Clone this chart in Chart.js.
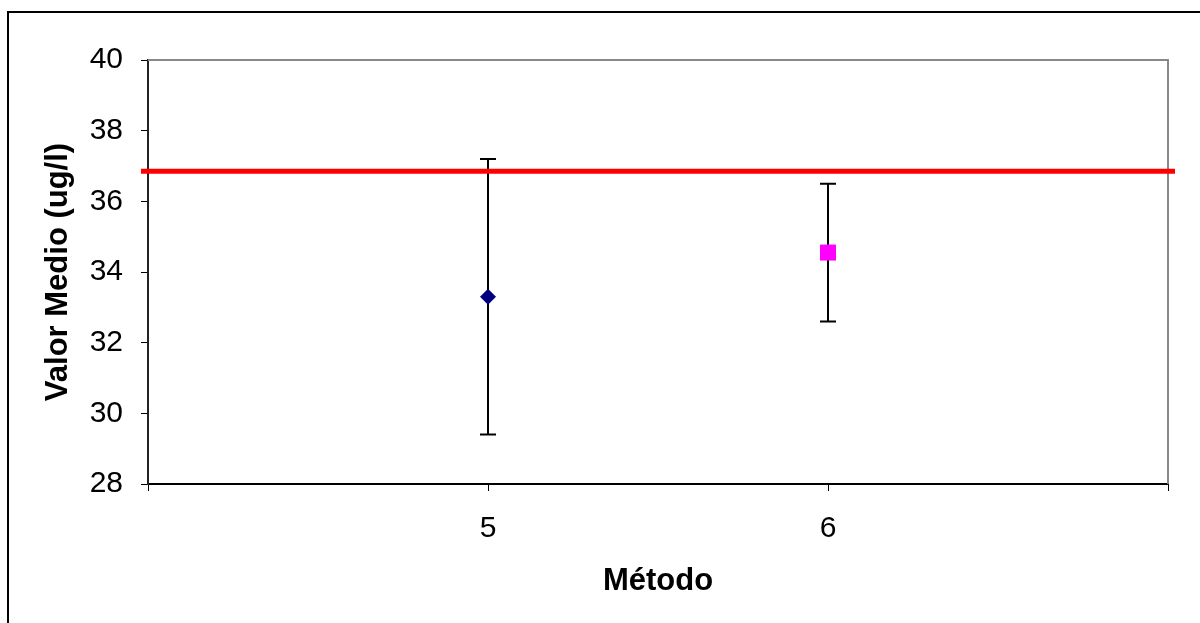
<!DOCTYPE html>
<html>
<head>
<meta charset="utf-8">
<script src="https://cdn.jsdelivr.net/npm/chart.js@4/dist/chart.umd.min.js"></script>
<style>
    html, body { margin: 0; padding: 0; background: #fff; }
    #wrap { width: 1200px; height: 623px; }
</style>
</head>
<body>
<div id="wrap"><canvas id="grafica" width="1200" height="623"></canvas></div>
<script>
// Datos
const metodos = [5, 6];
const medias = [33.3, 34.55];
const incertidumbres = [3.9, 1.95];
const coloresMetodo = ["#000080", "#FF00FF"];
const formasMetodo = ["rectRot", "rect"];
const radiosMetodo = [8, 11.3];
const valorReferencia = 36.85;
const ejeX = { min: 4, max: 7, paso: 1 };
const ejeY = { min: 28, max: 40, paso: 2 };
const etiquetasX = { 5: "5", 6: "6" };

// Barras de error (debajo de los marcadores)
const barrasError = {
    id: "barrasError",
    beforeDatasetsDraw(chart) {
        const { ctx, scales: { x, y } } = chart;
        ctx.save();
        ctx.strokeStyle = "#000";
        ctx.lineWidth = 2;
        metodos.forEach((m, i) => {
            const px = x.getPixelForValue(m);
            const top = y.getPixelForValue(medias[i] + incertidumbres[i]);
            const bot = y.getPixelForValue(medias[i] - incertidumbres[i]);
            ctx.beginPath();
            ctx.moveTo(px, top);
            ctx.lineTo(px, bot);
            ctx.moveTo(px - 8, top);
            ctx.lineTo(px + 8, top);
            ctx.moveTo(px - 8, bot);
            ctx.lineTo(px + 8, bot);
            ctx.stroke();
        });
        ctx.restore();
    }
};

// Marco gris del área, línea de referencia y borde exterior
const decoracion = {
    id: "decoracion",
    afterDatasetsDraw(chart) {
        const { ctx, chartArea: a, scales: { y } } = chart;
        ctx.save();
        ctx.strokeStyle = "#888";
        ctx.lineWidth = 2;
        ctx.beginPath();
        ctx.moveTo(a.left, a.top);
        ctx.lineTo(a.right, a.top);
        ctx.lineTo(a.right, a.bottom);
        ctx.stroke();

        const py = y.getPixelForValue(valorReferencia);
        ctx.strokeStyle = "#FF0000";
        ctx.lineWidth = 5;
        ctx.beginPath();
        ctx.moveTo(a.left - 7, py);
        ctx.lineTo(a.right + 7, py);
        ctx.stroke();

        ctx.strokeStyle = "#000";
        ctx.lineWidth = 2;
        ctx.strokeRect(8, 12, 1400, 800);
        ctx.restore();
    }
};

const ctx = document.getElementById("grafica");

new Chart(ctx, {
    type: "scatter",
    data: {
        datasets: metodos.map((m, i) => ({
            label: `Método ${m}`,
            data: [{ x: m, y: medias[i] }],
            pointStyle: formasMetodo[i],
            pointRadius: radiosMetodo[i],
            backgroundColor: coloresMetodo[i],
            borderColor: coloresMetodo[i],
            borderWidth: 0
        }))
    },
    options: {
        responsive: false,
        animation: false,
        devicePixelRatio: 1,
        layout: { padding: { left: 40, top: 60, right: 32, bottom: 23 } },
        plugins: { legend: { display: false }, tooltip: { enabled: false } },
        scales: {
            x: {
                type: "linear",
                min: ejeX.min,
                max: ejeX.max,
                afterFit: s => { s.height = 116; },
                border: { color: "#000", width: 2 },
                grid: { drawOnChartArea: false, tickLength: 7, color: "#000", lineWidth: 1 },
                ticks: {
                    stepSize: ejeX.paso,
                    padding: 20,
                    color: "#000",
                    maxRotation: 0,
                    font: { family: "'Liberation Sans', Arial", size: 30 },
                    callback: v => etiquetasX[v] || ""
                },
                title: {
                    display: true,
                    text: "Método",
                    color: "#000",
                    padding: 0,
                    font: { family: "'Liberation Sans', Arial", size: 31, weight: "bold" }
                }
            },
            y: {
                min: ejeY.min,
                max: ejeY.max,
                afterFit: s => { s.width = 108; },
                border: { color: "#222", width: 2 },
                grid: { drawOnChartArea: false, tickLength: 7, color: "#000", lineWidth: 1 },
                ticks: {
                    stepSize: ejeY.paso,
                    padding: 18,
                    color: "#000",
                    font: { family: "'Liberation Sans', Arial", size: 30 }
                },
                title: {
                    display: true,
                    text: "Valor Medio (ug/l)",
                    color: "#000",
                    padding: 0,
                    font: { family: "'Liberation Sans', Arial", size: 31, weight: "bold" }
                }
            }
        }
    },
    plugins: [barrasError, decoracion]
});
</script>
</body>
</html>
